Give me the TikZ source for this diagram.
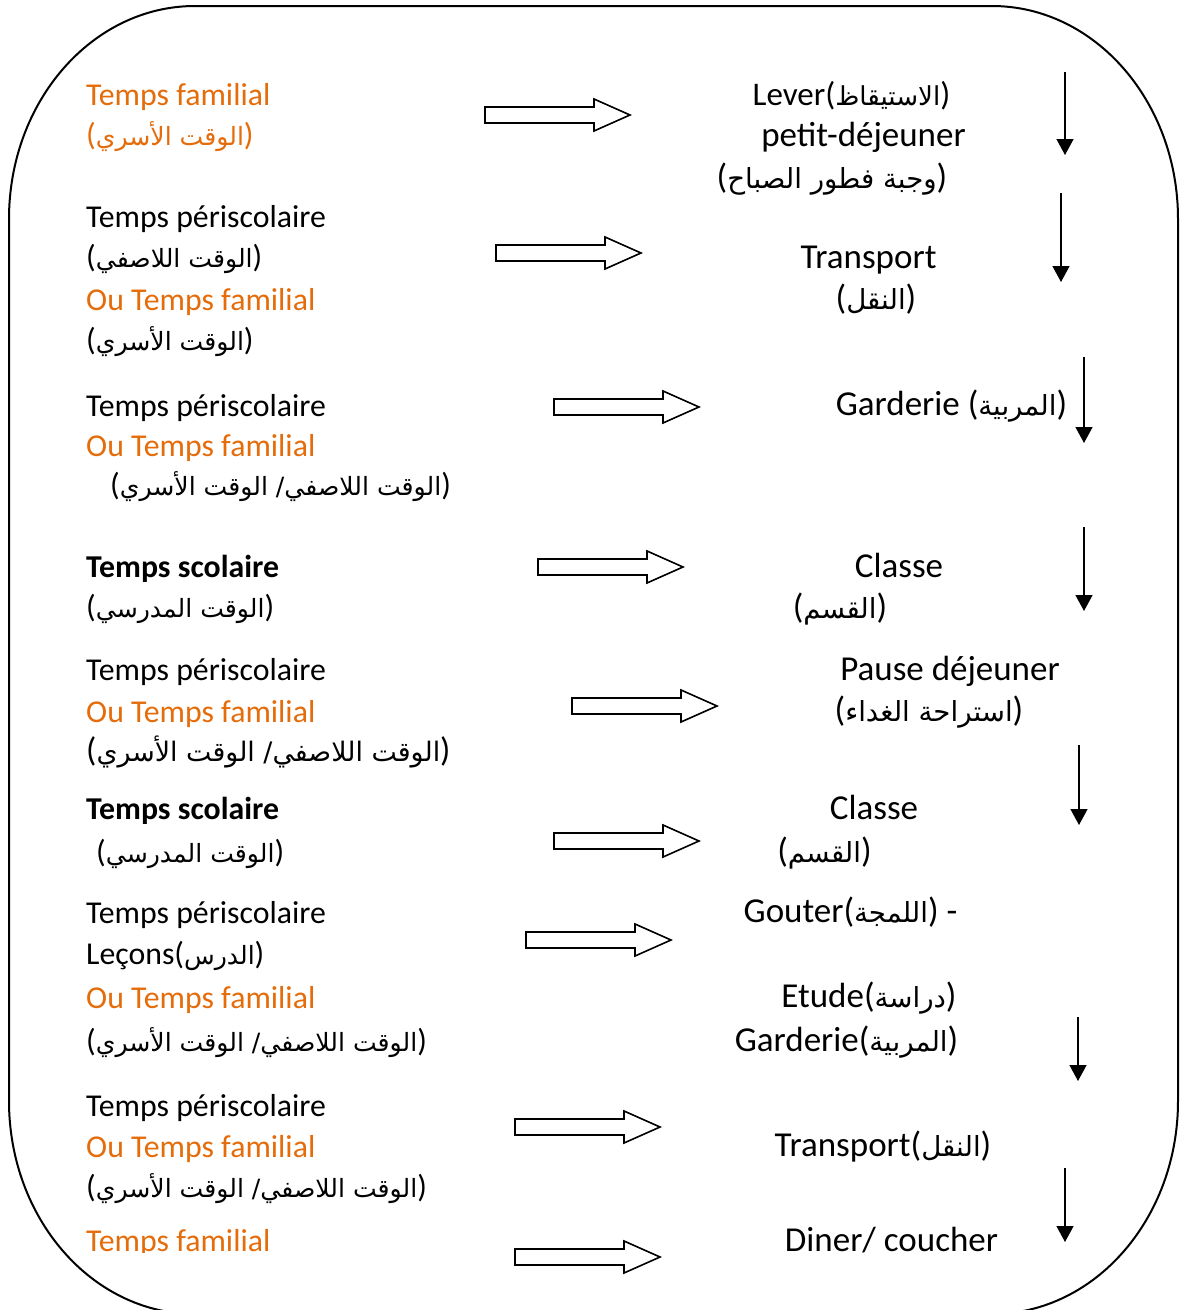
\documentclass[tikz,border=0pt]{standalone}
\usepackage{fontspec}
\setmainfont{Carlito}
\newfontfamily\ar[Script=Arabic,Scale=0.79]{DejaVu Sans}
\TeXXeTstate=1
\usetikzlibrary{arrows.meta}
\definecolor{orng}{RGB}{228,108,10}
\newcommand\AR[1]{({\ar\beginR #1\endR})}
\begin{document}
\begin{tikzpicture}[x=1pt,y=-1pt,
  every node/.style={inner sep=0pt, font=\fontsize{31.8}{38}\selectfont},
  lt/.style={anchor=base west},
  rt/.style={anchor=base, font=\fontsize{35}{42}\selectfont},
  fam/.style={text=orng},
  frame/.style={line width=2pt},
  downarr/.style={line width=1.4pt,-{Triangle[width=17pt,length=16pt]}},
  barrow/.pic={\draw[line width=1.6pt] (0,-8) -- (109,-8) -- (109,-16) -- (145,0) -- (109,16) -- (109,8) -- (0,8) -- cycle;}]
\useasboundingbox (0,0) rectangle (1179,1310);
\clip (0,0) rectangle (1179,1310);
% frame
\draw[frame] (9,219) .. controls (9,101.4) and (92.3,6) .. (195,6)
  -- (992,6) .. controls (1094.7,6) and (1178,101.4) .. (1178,219)
  -- (1178,1101) .. controls (1178,1218.6) and (1094.7,1314) .. (992,1314)
  -- (195,1314) .. controls (92.3,1314) and (9,1218.6) .. (9,1101) -- cycle;
% left column
\node[lt,fam] (l1a) at (86,105) {Temps familial};
\node[lt,fam] (l1b) at (86,145) {\AR{الوقت الأسري}};
\node[lt] (l2a) at (86,227) {Temps périscolaire};
\node[lt] (l2b) at (86,267) {\AR{الوقت اللاصفي}};
\node[lt,fam] (l2c) at (86,310) {Ou Temps familial};
\node[lt] (l2d) at (86,350) {\AR{الوقت الأسري}};
\node[lt] (l3a) at (86,416) {Temps périscolaire};
\node[lt,fam] (l3b) at (86,456) {Ou Temps familial};
\node[lt] (l3c) at (110,495) {\AR{الوقت اللاصفي/ الوقت الأسري}};
\node[lt] (l4a) at (86,577) {\bfseries Temps scolaire};
\node[lt] (l4b) at (86,617) {\AR{الوقت المدرسي}};
\node[lt] (l5a) at (86,680) {Temps périscolaire};
\node[lt,fam] (l5b) at (86,722) {Ou Temps familial};
\node[lt,font=\fontsize{34}{40}\selectfont] (l5c) at (86,761) {\AR{الوقت اللاصفي/ الوقت الأسري}};
\node[lt] (l6a) at (86,819) {\bfseries Temps scolaire};
\node[lt] (l6b) at (96,862) {\AR{الوقت المدرسي}};
\node[lt] (l7a) at (86,923) {Temps périscolaire};
\node[lt] (l7b) at (86,964) {Leçons\AR{الدرس}};
\node[lt,fam] (l7c) at (86,1008) {Ou Temps familial};
\node[lt] (l7d) at (86,1051) {\AR{الوقت اللاصفي/ الوقت الأسري}};
\node[lt] (l8a) at (86,1116) {Temps périscolaire};
\node[lt,fam] (l8b) at (86,1157) {Ou Temps familial};
\node[lt] (l8c) at (86,1197) {\AR{الوقت اللاصفي/ الوقت الأسري}};
\begin{scope}
\clip (0,0) rectangle (480,1252);
\node[lt,fam] (l9a) at (86,1251) {Temps familial};
\end{scope}
% block arrows
\pic at (485,115) {barrow};
\pic at (496,253) {barrow};
\pic at (554,407) {barrow};
\pic at (538,567) {barrow};
\pic at (572,706) {barrow};
\pic at (554,841) {barrow};
\pic at (526,940) {barrow};
\pic at (515,1127) {barrow};
\pic at (515,1257) {barrow};
% right column
\node[rt,font=\fontsize{33}{40}\selectfont] (r1a) at (851.5,105) {Lever\AR{الاستيقاظ}};
\node[rt] (r1b) at (863.5,146) {petit-déjeuner};
\node[rt] (r1c) at (832,188) {\AR{وجبة فطور الصباح}};
\node[rt] (r2a) at (868.5,268) {Transport};
\node[rt] (r2b) at (876,309) {\AR{النقل}};
\node[rt] (r3a) at (951.5,415) {Garderie \AR{المربية}};
\node[rt] (r4a) at (899,577) {Classe};
\node[rt] (r4b) at (840,618) {\AR{القسم}};
\node[rt] (r5a) at (950,680) {Pause déjeuner};
\node[rt] (r5b) at (929,721) {\AR{استراحة الغداء}};
\node[rt] (r6a) at (874,819) {Classe};
\node[rt] (r6b) at (824.5,862) {\AR{القسم}};
\node[rt] (r7a) at (850.5,922) {Gouter\AR{اللمجة} -};
\node[rt] (r7b) at (869,1007) {Etude\AR{دراسة}};
\node[rt] (r7c) at (846.5,1051) {Garderie\AR{المربية}};
\node[rt] (r8a) at (883,1156) {Transport\AR{النقل}};
\node[rt] (r9a) at (891.5,1251) {Diner/ coucher};
% down arrows
\coordinate (d1s) at (1065,72);   \coordinate (d1e) at (1065,155);
\coordinate (d2s) at (1061,193);  \coordinate (d2e) at (1061,282);
\coordinate (d3s) at (1084,357);  \coordinate (d3e) at (1084,443);
\coordinate (d4s) at (1084,527);  \coordinate (d4e) at (1084,611);
\coordinate (d5s) at (1079,745);  \coordinate (d5e) at (1079,825);
\coordinate (d6s) at (1078,1017); \coordinate (d6e) at (1078,1081);
\coordinate (d7s) at (1065,1168); \coordinate (d7e) at (1065,1242);
\foreach \i in {1,...,7} \draw[downarr] (d\i s) -- (d\i e);
\end{tikzpicture}
\end{document}
